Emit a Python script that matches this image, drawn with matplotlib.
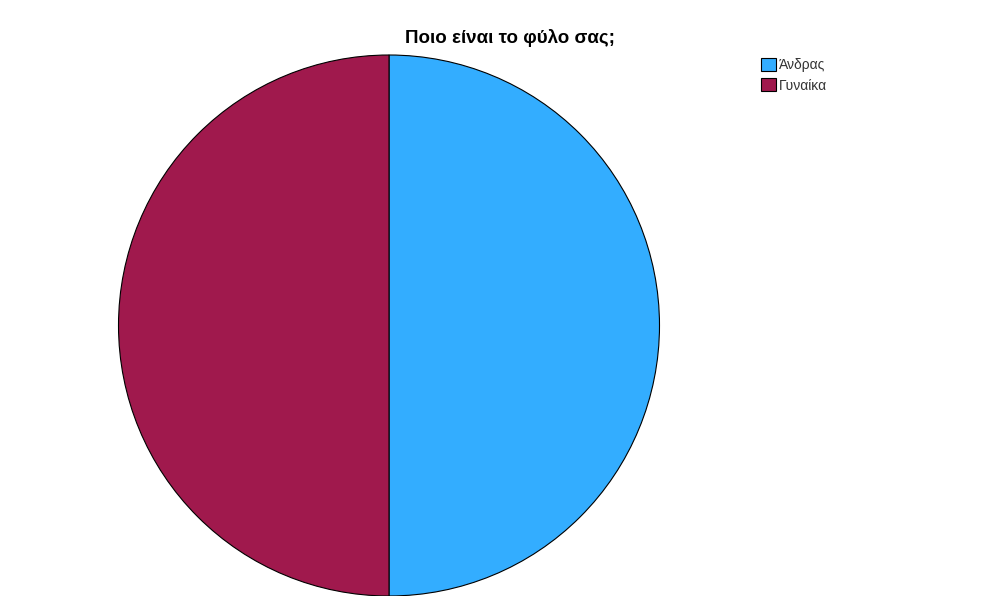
import matplotlib.pyplot as plt

plt.rcParams['font.family'] = ['Liberation Sans', 'DejaVu Sans']

labels = ["Άνδρας", "Γυναίκα"]
values = [50, 50]
colors = ["#33adff", "#a0194d"]
title = "Ποιο είναι το φύλο σας;"

W, H = 997, 596
fig = plt.figure(figsize=(W/100, H/100), dpi=100)

# pie centre ~ (389, 325.5) px, radius ~ 270.5 px
cx, cy, r = 389, 325.5, 270.5
ax = fig.add_axes([(cx - r)/W, (H - cy - r)/H, 2*r/W, 2*r/H])
wedges, _ = ax.pie(values, colors=colors, startangle=90, counterclock=False,
                   wedgeprops=dict(edgecolor="black", linewidth=0.8))
ax.set_xlim(-1, 1); ax.set_ylim(-1, 1)
ax.set_aspect("auto")

fig.text(510/W, 1 - 38/H, title, ha="center", va="center", fontsize=13.5, fontweight="bold")

fig.legend(wedges, labels, loc="upper left", bbox_to_anchor=(761/W, 1 - 58/H), frameon=False,
           fontsize=10, handlelength=1.05, handleheight=1.05, handletextpad=0.25,
           labelspacing=0.45, borderpad=0, borderaxespad=0, labelcolor="#333333")

fig.savefig("out.png", dpi=100)
